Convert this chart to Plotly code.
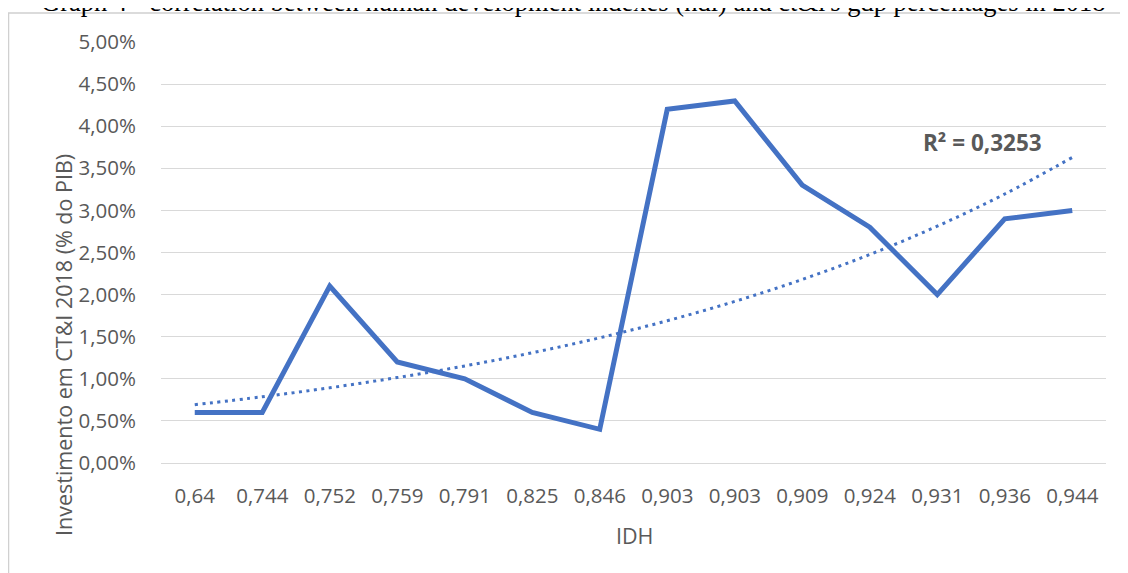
import numpy as np
import plotly.graph_objects as go

# ---- data ----
idh_labels = ["0,64", "0,744", "0,752", "0,759", "0,791", "0,825", "0,846",
              "0,903", "0,903", "0,909", "0,924", "0,931", "0,936", "0,944"]
investimento = [0.006, 0.006, 0.021, 0.012, 0.010, 0.006, 0.004,
                0.042, 0.043, 0.033, 0.028, 0.020, 0.029, 0.030]
r2_label = "R² = 0,3253"
title_text = "Graph 4 - correlation between human development indexes (hdi) and ct&i's gdp percentages in 2018"
y_title = "Investimento em CT&I 2018 (% do PIB)"
x_title = "IDH"

# ---- exponential trendline (Excel-style fit) ----
xi = np.arange(1, len(investimento) + 1)
b, ln_a = np.polyfit(xi, np.log(investimento), 1)
trend = np.exp(ln_a) * np.exp(b * xi)
pos = list(range(len(idh_labels)))

# ---- layout geometry (page pixels; page body has an 8px margin) ----
OFF = 8
W_FIG, H_FIG = 1128 - OFF, 573 - OFF
L, R, T, B = 161 - OFF, 1106 - OFF, 42 - OFF, 463 - OFF
PW, PH = R - L, B - T

def px_x(px):
    return (px - OFF - L) / PW

def px_y(py):
    return 1 - (py - OFF - T) / PH

BLUE = "#4472C4"
GREY_TXT = "#595959"
GRID = "#D9D9D9"
FONT = "Open Sans"

fig = go.Figure()
fig.add_trace(go.Scatter(x=pos, y=investimento, mode="lines",
                         line=dict(color=BLUE, width=5), showlegend=False,
                         hoverinfo="skip"))
fig.add_trace(go.Scatter(x=pos, y=trend, mode="lines",
                         line=dict(color=BLUE, width=3, dash="3px,4.5px", shape="spline"),
                         showlegend=False, hoverinfo="skip"))

fig.update_layout(
    width=W_FIG, height=H_FIG,
    margin=dict(l=L, r=W_FIG - R, t=T, b=H_FIG - B, autoexpand=False),
    paper_bgcolor="white", plot_bgcolor="white",
    separators=",.",
    font=dict(family=FONT, size=20, color=GREY_TXT),
    xaxis=dict(tickmode="array", tickvals=pos, ticktext=idh_labels,
               range=[-0.5, len(pos) - 0.5], showgrid=False, zeroline=False,
               showline=False, ticks="outside", ticklen=14,
               tickcolor="rgba(0,0,0,0)", tickfont=dict(size=20.5, color=GREY_TXT)),
    yaxis=dict(range=[0, 0.05], tickmode="linear", tick0=0, dtick=0.005,
               tickformat=".2%", showgrid=True, gridcolor=GRID, gridwidth=1,
               zeroline=True, zerolinecolor=GRID, zerolinewidth=1,
               showline=False, ticks="outside", ticklen=20,
               tickcolor="rgba(0,0,0,0)", tickfont=dict(size=20.5, color=GREY_TXT)),
    shapes=[dict(type="rect", xref="paper", yref="paper",
                 x0=px_x(8.5), x1=px_x(1140), y0=px_y(590), y1=px_y(13),
                 line=dict(color="#D0D0D0", width=1.5), fillcolor="rgba(0,0,0,0)",
                 layer="above")],
    annotations=[
        dict(text=title_text, xref="paper", yref="paper", x=px_x(573), y=px_y(19),
             xanchor="center", yanchor="bottom", showarrow=False,
             font=dict(family="Liberation Serif", size=26.5, color="black")),
        dict(text=y_title, xref="paper", yref="paper", x=px_x(63), y=px_y(345),
             xanchor="center", yanchor="middle", textangle=-90, showarrow=False,
             font=dict(family=FONT, size=21.5, color=GREY_TXT)),
        dict(text=x_title, xref="paper", yref="paper", x=px_x(634), y=px_y(535),
             xanchor="center", yanchor="middle", showarrow=False,
             font=dict(family=FONT, size=21.5, color=GREY_TXT)),
        dict(text="<b>" + r2_label + "</b>", xref="paper", yref="paper",
             x=px_x(982), y=px_y(142), xanchor="center", yanchor="middle",
             showarrow=False, font=dict(family=FONT, size=22.5, color=GREY_TXT)),
    ],
)

fig.write_html("out.html")
